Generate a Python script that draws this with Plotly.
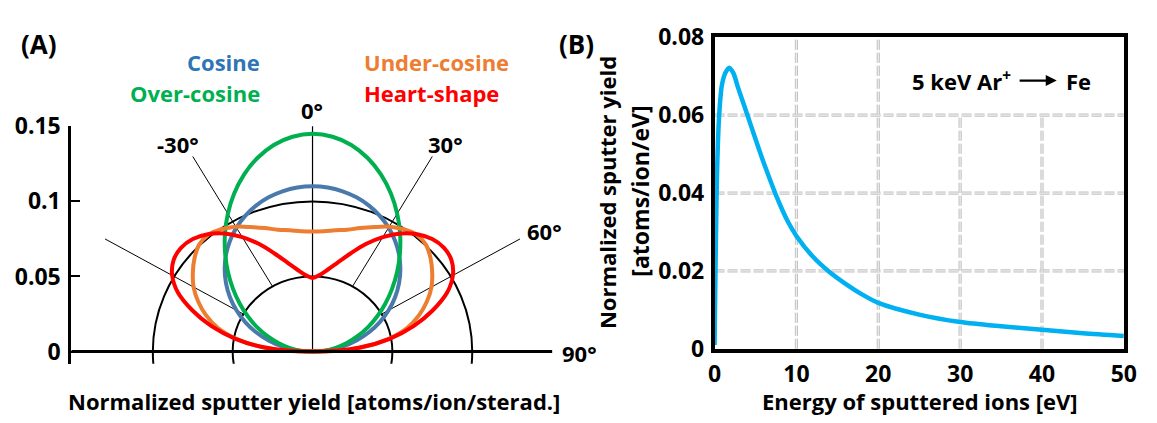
import numpy as np
import plotly.graph_objects as go

W, H = 1157, 423
FONT = "Open Sans"

# ---------------- Panel A: angular distributions (angle from surface normal) ----------------
theta_deg = list(range(-90, 91, 5))

r_cosine = [0.0, 0.0096, 0.0191, 0.0285, 0.0376, 0.0465, 0.0550, 0.0631, 0.0707, 0.0778,
            0.0843, 0.0901, 0.0953, 0.0997, 0.1034, 0.1063, 0.1083, 0.1096, 0.110,
            0.1096, 0.1083, 0.1063, 0.1034, 0.0997, 0.0953, 0.0901, 0.0843, 0.0778,
            0.0707, 0.0631, 0.0550, 0.0465, 0.0376, 0.0285, 0.0191, 0.0096, 0.0]

r_over_cosine = [0.0, 0.0073, 0.0147, 0.0222, 0.0300, 0.0382, 0.0467, 0.0556, 0.0650, 0.0749,
                 0.0851, 0.0956, 0.1060, 0.1161, 0.1254, 0.1334, 0.1397, 0.1436, 0.145,
                 0.1436, 0.1397, 0.1334, 0.1254, 0.1161, 0.1060, 0.0956, 0.0851, 0.0749,
                 0.0650, 0.0556, 0.0467, 0.0382, 0.0300, 0.0222, 0.0147, 0.0073, 0.0]

r_under_cosine = [0.0, 0.030, 0.048, 0.0615, 0.0710, 0.0790, 0.0860, 0.0915, 0.0965, 0.1005,
                  0.1015, 0.0995, 0.0960, 0.0915, 0.0875, 0.0840, 0.0820, 0.0805, 0.080,
                  0.0805, 0.0820, 0.0840, 0.0875, 0.0915, 0.0960, 0.0995, 0.1015, 0.1005,
                  0.0965, 0.0915, 0.0860, 0.0790, 0.0710, 0.0615, 0.048, 0.030, 0.0]

r_heart = [0.0, 0.0290, 0.0490, 0.0655, 0.0800, 0.0930, 0.1015, 0.1062, 0.1075, 0.1060,
           0.1020, 0.0960, 0.0880, 0.0790, 0.0695, 0.0615, 0.0555, 0.0512, 0.049,
           0.0512, 0.0555, 0.0615, 0.0695, 0.0790, 0.0880, 0.0960, 0.1020, 0.1060,
           0.1075, 0.1062, 0.1015, 0.0930, 0.0800, 0.0655, 0.0490, 0.0290, 0.0]

polar_ticks = [0, 0.05, 0.1, 0.15]
polar_ticktext = ["0", "0.05", "0.1", "0.15"]
guide_radii = [0.05, 0.1]
guide_angles = [-60, -30, 30, 60]
angle_labels = ["-30°", "0°", "30°", "60°", "90°"]

# ---------------- Panel B: energy distribution of sputtered atoms ----------------
energy_ev = [0, 0.1, 0.2, 0.3, 0.5, 0.7, 0.9, 1.3, 1.8, 2.3, 2.9, 3.7, 4.5, 5.0, 5.7, 6.3,
             7.5, 9.0, 10, 12, 14, 16, 18, 20, 25, 30, 35, 40, 45, 50]
yield_per_ev = [0.001, 0.018, 0.033, 0.045, 0.0575, 0.0640, 0.0678, 0.0708, 0.0722, 0.0708,
                0.0669, 0.0620, 0.0570, 0.0539, 0.0496, 0.0461, 0.0395, 0.0325, 0.0290,
                0.0237, 0.0198, 0.0167, 0.0140, 0.0118, 0.0088, 0.0069, 0.0058, 0.0049,
                0.0040, 0.0033]
energy_ticks = [0, 10, 20, 30, 40, 50]
yield_ticks = [0, 0.02, 0.04, 0.06, 0.08]
yield_ticktext = ["0", "0.02", "0.04", "0.06", "0.08"]


def to_xy(r, deg):
    t = np.radians(np.asarray(deg, dtype=float))
    r = np.asarray(r, dtype=float)
    return r * np.sin(t), r * np.cos(t)


fig = go.Figure()

series = [
    ("Cosine", r_cosine, "#4A7AAB"),
    ("Over-cosine", r_over_cosine, "#00B050"),
    ("Under-cosine", r_under_cosine, "#ED7D31"),
    ("Heart-shape", r_heart, "#FF0000"),
]
for name, r, color in series:
    x, y = to_xy(r, theta_deg)
    fig.add_trace(go.Scatter(x=x, y=y, mode="lines", name=name,
                             line=dict(color=color, width=4, shape="spline", smoothing=1.0),
                             xaxis="x", yaxis="y", showlegend=False, hoverinfo="skip"))

fig.add_trace(go.Scatter(x=energy_ev, y=yield_per_ev, mode="lines",
                         line=dict(color="#00B0F0", width=4.5, shape="spline", smoothing=0.8),
                         xaxis="x2", yaxis="y2", showlegend=False, hoverinfo="skip"))

shapes = []
# polar guide circles
for rr in guide_radii:
    shapes.append(dict(type="circle", xref="x", yref="y", x0=-rr, x1=rr, y0=-rr, y1=rr,
                       line=dict(color="black", width=2), layer="below"))
# radial guide lines
for a in guide_angles:
    t = np.radians(a)
    shapes.append(dict(type="line", xref="x", yref="y",
                       x0=0.05 * np.sin(t), y0=0.05 * np.cos(t),
                       x1=0.15 * np.sin(t), y1=0.15 * np.cos(t),
                       line=dict(color="black", width=1), layer="below"))
shapes.append(dict(type="line", xref="x", yref="y", x0=0, y0=0, x1=0, y1=0.15,
                   line=dict(color="black", width=1.2), layer="below"))
# horizontal base axis at zero
shapes.append(dict(type="line", xref="x", yref="y", x0=-0.151, y0=0, x1=0.1502, y1=0,
                   line=dict(color="black", width=3)))

# dashed grid in panel B
grid_segments = [
    ("h", 0.02, 0, 50), ("h", 0.04, 0, 50), ("h", 0.06, 0, 50),
    ("v", 10, 0, 0.08), ("v", 20, 0, 0.08), ("v", 30, 0, 0.06), ("v", 40, 0, 0.06),
]
for kind, pos, a0, a1 in grid_segments:
    for col, wd in (("#c2c2c2", 3.2), ("#ededed", 1.2)):
        if kind == "h":
            shp = dict(x0=a0, x1=a1, y0=pos, y1=pos)
        else:
            shp = dict(x0=pos, x1=pos, y0=a0, y1=a1)
        shp.update(type="line", xref="x2", yref="y2", layer="below",
                   line=dict(color=col, width=wd, dash="10px,3px"))
        shapes.append(shp)

ann = []


def px(xp, yp):
    return xp / W, 1 - yp / H


def text(xp, yp, s, size=22, color="black", xanchor="center", angle=0):
    x, y = px(xp, yp)
    ann.append(dict(x=x, y=y, text=f"<b>{s}</b>", showarrow=False, xref="paper",
                    yref="paper", xanchor=xanchor, yanchor="middle", textangle=angle,
                    font=dict(family=FONT, size=size, color=color)))


# panel letters
text(33, 29, "(A)", size=26)
text(580, 29, "(B)", size=26)

# angle labels
label_px = {"-30°": (174, 137), "0°": (310.7, 101), "30°": (446, 137),
            "60°": (546.5, 231), "90°": (583, 363)}
for lab in angle_labels:
    text(*label_px[lab], lab, size=22)

# series labels
text(259.3, 49, "Cosine", color="#2E75B6", xanchor="right")
text(259.3, 82, "Over-cosine", color="#00B050", xanchor="right")
text(361, 49, "Under-cosine", color="#ED7D31", xanchor="left")
text(361, 82, "Heart-shape", color="#FF0000", xanchor="left")

# axis titles
text(312.6, 415, "Normalized sputter yield [atoms/ion/sterad.]", size=22)
text(929.4, 415, "Energy of sputtered ions [eV]", size=22)
text(610, 190, "Normalized sputter yield", size=22, angle=-90)
text(644, 188, "[atoms/ion/eV]", size=23, angle=-90)

# reaction label with arrow (panel B data coordinates)
ann.append(dict(x=36.4, y=0.0689, xref="x2", yref="y2", xanchor="right", yanchor="middle",
                text="<b>5 keV Ar<sup>+</sup></b>", showarrow=False,
                font=dict(family=FONT, size=22, color="black")))
ann.append(dict(x=42.67, y=0.0689, xref="x2", yref="y2", xanchor="left", yanchor="middle",
                text="<b>Fe</b>", showarrow=False,
                font=dict(family=FONT, size=22, color="black")))
ann.append(dict(x=41.8, y=0.0689, ax=36.9, ay=0.0689, xref="x2", yref="y2",
                axref="x2", ayref="y2", text=" ", showarrow=True, arrowhead=2,
                arrowsize=1, arrowwidth=2.2, arrowcolor="black"))

tick_font = dict(family=FONT, size=23, color="black", weight="bold")

fig.update_layout(
    width=W, height=H,
    margin=dict(l=0, r=0, t=0, b=0),
    paper_bgcolor="white", plot_bgcolor="white",
    font=dict(family=FONT, color="black"),
    showlegend=False,
    shapes=shapes, annotations=ann,
    xaxis=dict(domain=[65.5 / W, 555 / W], range=[-0.151, 0.1502], visible=False,
               fixedrange=True),
    yaxis=dict(domain=[1 - 375 / H, 1 - 117.4 / H], range=[-0.008, 0.1505], anchor="x",
               showline=True, linewidth=3, linecolor="black", showgrid=False,
               zeroline=False, ticks="inside", ticklen=9, tickwidth=2, tickcolor="black",
               tickvals=polar_ticks, ticktext=polar_ticktext, tickfont=tick_font,
               ticklabelstandoff=3),
    xaxis2=dict(domain=[720 / W, 1136.5 / W], range=[0, 50], anchor="y2",
                showline=True, mirror=True, linewidth=3.5, linecolor="black",
                showgrid=False, zeroline=False, ticks="", tickvals=energy_ticks,
                tickfont=tick_font, ticklabelstandoff=2),
    yaxis2=dict(domain=[1 - 359 / H, 1 - 22 / H], range=[0, 0.08], anchor="x2",
                showline=True, mirror=True, linewidth=3.5, linecolor="black",
                showgrid=False, zeroline=False, ticks="", tickvals=yield_ticks,
                ticktext=yield_ticktext, tickfont=tick_font, ticklabelstandoff=2),
)

fig.write_html("out.html")
